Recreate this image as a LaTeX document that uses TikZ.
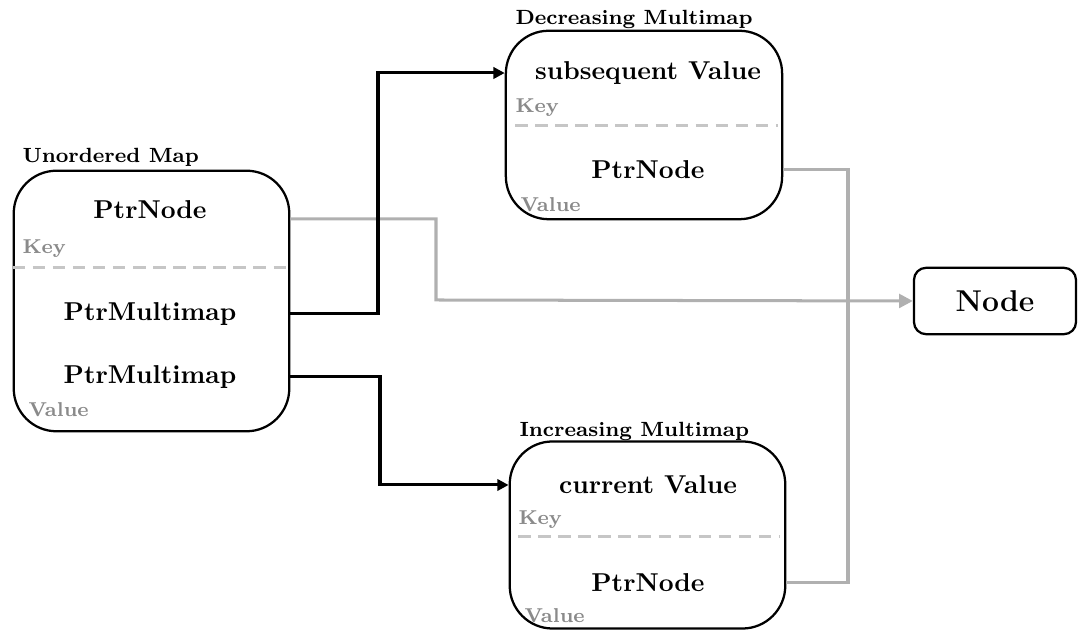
\documentclass[tikz,border=0pt]{standalone}
\usetikzlibrary{arrows.meta}
\definecolor{corLinhaCinza}{RGB}{176, 176, 176}
\definecolor{corRotulo}{RGB}{138, 138, 138}
\definecolor{corDivisor}{RGB}{198, 198, 198}

\begin{document}
\begin{tikzpicture}[x=0.014cm, y=-0.014cm,
    caixa/.style={draw, line width=0.9pt, rounded corners=0.6cm, inner sep=0pt},
    titulo/.style={anchor=base west, inner sep=0pt, font=\fontsize{8.2}{10}\selectfont\bfseries},
    campo/.style={inner sep=1pt, font=\fontsize{10.3}{12}\selectfont\bfseries},
    rotulo/.style={anchor=west, inner sep=0pt, text=corRotulo, font=\footnotesize\bfseries},
    divisor/.style={corDivisor, line width=1.2pt, dash pattern=on 5pt off 3pt},
    setaPreta/.style={line width=1.2pt, -{Triangle[length=4.5pt, width=4.5pt]}},
    linhaCinza/.style={corLinhaCinza, line width=1.2pt}]

  \useasboundingbox (0,0) rectangle (1078,630);

  %% ================================================================
  %%  UNORDERED MAP (esquerda)
  %% ================================================================
  \node[caixa, minimum width=3.86cm, minimum height=3.65cm] (umap) at (151.5,301) {};
  \node[titulo] (utit) at (22,163) {Unordered Map};
  \node[campo] (upn)  at (150,210) {PtrNode};
  \node[rotulo] (ukey) at (22,249) {Key};
  \coordinate (ucorte) at (150,268);
  \draw[divisor] (umap.west |- ucorte) -- (umap.east |- ucorte);
  \node[campo] (upm1) at (150,314) {PtrMultimap};
  \node[campo] (upm2) at (150,377) {PtrMultimap};
  \node[rotulo] (uval) at (28,410) {Value};

  %% ================================================================
  %%  DECREASING MULTIMAP (acima)
  %% ================================================================
  \node[caixa, minimum width=3.87cm, minimum height=2.64cm] (dmap) at (644,125) {};
  \node[titulo] (dtit) at (515,25) {Decreasing Multimap};
  \node[campo] (dsv)  at (648,73) {subsequent Value};
  \node[rotulo] (dkey) at (515,108) {Key};
  \coordinate (dcorte1) at (515,126);
  \coordinate (dcorte2) at (778,126);
  \draw[divisor] (dcorte1) -- (dcorte2);
  \node[campo] (dpn)  at (648,170) {PtrNode};
  \node[rotulo] (dval) at (520,205) {Value};

  %% ================================================================
  %%  INCREASING MULTIMAP (abaixo)
  %% ================================================================
  \node[caixa, minimum width=3.86cm, minimum height=2.62cm] (imap) at (647.5,535) {};
  \node[titulo] (itit) at (519,437) {Increasing Multimap};
  \node[campo] (icv)  at (648,485) {current Value};
  \node[rotulo] (ikey) at (518,520) {Key};
  \coordinate (icorte1) at (518,537);
  \coordinate (icorte2) at (780,537);
  \draw[divisor] (icorte1) -- (icorte2);
  \node[campo] (ipn)  at (648,583) {PtrNode};
  \node[rotulo] (ival) at (524,616) {Value};

  %% ================================================================
  %%  NODE (direita)
  %% ================================================================
  \node[draw, line width=0.9pt, rounded corners=0.17cm,
        minimum width=2.27cm, minimum height=0.93cm,
        font=\large\bfseries] (nodo) at (995,301) {Node};

  %% ================================================================
  %%  LIGACOES
  %% ================================================================
  % cinza: PtrNode -> Node
  \coordinate (gx) at (436,300);
  \draw[linhaCinza, -{Triangle[length=5.5pt, width=5.5pt]}]
    (umap.east |- upn.base) -| (gx) -- (nodo.west);

  % cinza: PtrNode do decreasing ate PtrNode do increasing
  \coordinate (gy) at (848,400);
  \draw[linhaCinza] (dmap.east |- dpn) -| (gy) |- (imap.east |- ipn);

  % pretas: PtrMultimap -> multimaps
  \coordinate (bx1) at (378,200);
  \draw[setaPreta] (umap.east |- upm1) -| (bx1) |- (dmap.west |- dsv);
  \coordinate (bx2) at (380,430);
  \draw[setaPreta] (umap.east |- upm2) -| (bx2) |- (imap.west |- icv);

\end{tikzpicture}
\end{document}
